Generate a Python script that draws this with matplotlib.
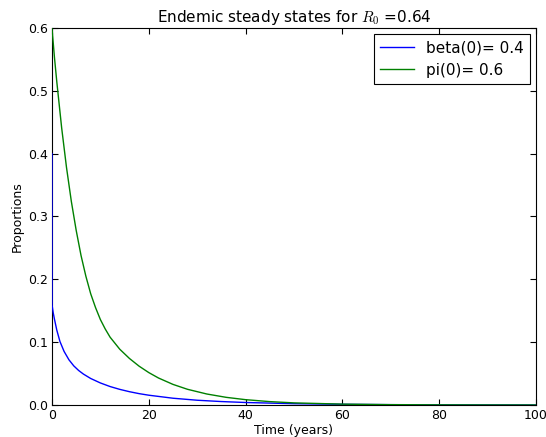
import numpy as np
import matplotlib
matplotlib.use('Agg')
import matplotlib.pyplot as plt

# values
t_beta = [0, 0.02, 0.25, 0.5, 1, 1.65, 2.5, 3.5, 4.5, 5.5, 6.5, 8, 10, 12, 14, 16,
          18, 20, 25, 30, 35, 40, 50, 60, 70, 80, 100]
beta = [0.4, 0.159, 0.147, 0.137, 0.119, 0.101, 0.0853, 0.072, 0.0623, 0.055,
        0.0492, 0.0422, 0.0351, 0.0294, 0.0249, 0.0212, 0.0181, 0.0156, 0.0108,
        0.0076, 0.0055, 0.004, 0.0021, 0.0011, 0.0006, 0.0003, 0.0001]

t_pi = [0, 0.5, 1, 2, 3, 4, 5, 6, 7, 8, 9, 10, 11, 12, 14, 16, 18, 20, 22, 25, 28,
        32, 36, 40, 45, 50, 60, 70, 80, 90, 100]
pi = [0.6, 0.554, 0.514, 0.441, 0.378, 0.324, 0.278, 0.238, 0.205, 0.177, 0.155,
      0.136, 0.121, 0.108, 0.0888, 0.0741, 0.0618, 0.0516, 0.043, 0.0328, 0.025,
      0.0175, 0.0122, 0.0085, 0.0054, 0.0034, 0.0014, 0.00055, 0.00022, 0.00009,
      0.00004]

plt.rcParams['mathtext.fontset'] = 'cm'

fig = plt.figure(figsize=(5.46, 4.37), dpi=100)
ax = fig.add_axes([0.0952, 0.0732, 0.8865, 0.8628])

# lines drawn over the spines, like the old matplotlib look
ax.plot(t_beta, beta, color='b', lw=1, label='beta(0)= 0.4', zorder=3)
ax.plot(t_pi, pi, color='g', lw=1, label='pi(0)= 0.6', zorder=3)

ax.set_xlim(0, 100)
ax.set_ylim(0, 0.6)
ax.set_xticks([0, 20, 40, 60, 80, 100])
ax.set_yticks([0.0, 0.1, 0.2, 0.3, 0.4, 0.5, 0.6])
ax.tick_params(direction='in', top=True, right=True, labelsize=9, length=4, pad=3)
ax.set_xlabel('Time (years)', fontsize=9, labelpad=1)
ax.set_ylabel('Proportions', fontsize=9, labelpad=3)
ax.set_title('Endemic steady states for $R_0$ =0.64', fontsize=11, pad=4)

leg = ax.legend(loc='upper right', fontsize=11, fancybox=False, framealpha=1,
                edgecolor='black', handlelength=2.2, borderaxespad=0.4)
leg.get_frame().set_linewidth(0.8)
leg.set_zorder(5)

fig.savefig('out.png', dpi=100)
